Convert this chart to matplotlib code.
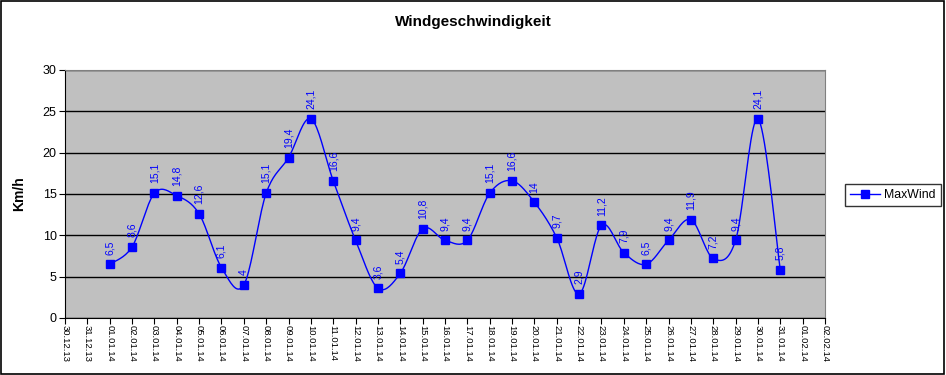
import numpy as np
import pandas as pd
import matplotlib
matplotlib.use("Agg")
import matplotlib.pyplot as plt
from matplotlib.patches import Rectangle
from matplotlib.lines import Line2D

plt.rcParams['font.family'] = ['Liberation Sans', 'DejaVu Sans']

# ---- data ----
axis_start = "2013-12-30"
axis_end = "2014-02-02"
data_start = "2014-01-01"
max_wind = [6.5, 8.6, 15.1, 14.8, 12.6, 6.1, 4.0, 15.1, 19.4, 24.1, 16.6, 9.4,
            3.6, 5.4, 10.8, 9.4, 9.4, 15.1, 16.6, 14.0, 9.7, 2.9, 11.2, 7.9,
            6.5, 9.4, 11.9, 7.2, 9.4, 24.1, 5.8]
series_name = "MaxWind"
title = "Windgeschwindigkeit"
y_label = "Km/h"
y_ticks = [0, 5, 10, 15, 20, 25, 30]

axis_dates = pd.date_range(axis_start, axis_end, freq="D")
tick_labels = [d.strftime("%d.%m.%y") for d in axis_dates]
offset = (pd.Timestamp(data_start) - pd.Timestamp(axis_start)).days
x = np.arange(len(max_wind)) + offset
y = np.array(max_wind)


def smooth(xs, ys, n=20):
    # Bezier smoothing similar to Excel (Catmull-Rom style control points)
    px = np.concatenate([[xs[0]], xs, [xs[-1]]])
    py = np.concatenate([[ys[0]], ys, [ys[-1]]])
    ox, oy = [], []
    t = np.linspace(0, 1, n)
    for i in range(1, len(px) - 2):
        p0 = np.array([px[i - 1], py[i - 1]])
        p1 = np.array([px[i], py[i]])
        p2 = np.array([px[i + 1], py[i + 1]])
        p3 = np.array([px[i + 2], py[i + 2]])
        c1 = p1 + (p2 - p0) / 6.0
        c2 = p2 - (p3 - p1) / 6.0
        b = ((1 - t) ** 3)[:, None] * p1 + (3 * (1 - t) ** 2 * t)[:, None] * c1 \
            + (3 * (1 - t) * t ** 2)[:, None] * c2 + (t ** 3)[:, None] * p2
        ox.extend(b[:, 0]); oy.extend(b[:, 1])
    return np.array(ox), np.array(oy)


fig = plt.figure(figsize=(9.46, 3.75), dpi=100)
fig.patches.append(Rectangle((0.001, 0.002), 0.997, 0.995, transform=fig.transFigure,
                             fill=False, edgecolor='black', linewidth=1.2))

ax = fig.add_axes([65 / 946, 57 / 375, 760 / 946, 248 / 375])
ax.set_facecolor('#C0C0C0')
for yt in y_ticks:
    ax.axhline(yt, color='black', linewidth=1.0, zorder=1)

sx, sy = smooth(x.astype(float), y)
ax.plot(sx, sy, color='#0000FF', linewidth=1.0, zorder=3)
ax.plot(x, y, linestyle='none', marker='s', markersize=6, color='#0000FF', zorder=4)

for xi, yi in zip(x, y):
    lab = ("%g" % yi).replace('.', ',')
    ax.annotate(lab, (xi, yi), xytext=(0, 7), textcoords='offset points',
                rotation=90, ha='center', va='bottom', fontsize=7.5, color='#0000FF')

ax.set_xlim(0, len(axis_dates) - 1)
ax.set_ylim(0, 30)
ax.set_xticks(np.arange(len(axis_dates)))
ax.set_xticklabels(tick_labels, rotation=-90, fontsize=6.8)
ax.set_yticks(y_ticks)
ax.set_yticklabels([str(v) for v in y_ticks], fontsize=9)
ax.tick_params(axis='both', direction='out', length=4, width=0.8, color='black', pad=2)
ax.tick_params(axis='x', pad=1)
ax.set_ylabel(y_label, fontsize=10, fontweight='bold', labelpad=12)
for s in ['left', 'bottom']:
    ax.spines[s].set_color('black')
for s in ['top', 'right']:
    ax.spines[s].set_color('#808080')

fig.text(0.5, 1 - 22 / 375, title, ha='center', va='center', fontsize=11, fontweight='bold')

handle = Line2D([0], [0], color='#0000FF', marker='s', markersize=6, linewidth=1.0)
leg = fig.legend([handle], [series_name], loc='center left',
                 bbox_to_anchor=(845 / 946, 1 - 195 / 375), frameon=True, fancybox=False,
                 fontsize=8.8, handlelength=2.5, borderpad=0.4, handletextpad=0.3,
                 borderaxespad=0.0, edgecolor='black')
leg.get_frame().set_linewidth(1.0)

fig.savefig("out.png", dpi=100)
